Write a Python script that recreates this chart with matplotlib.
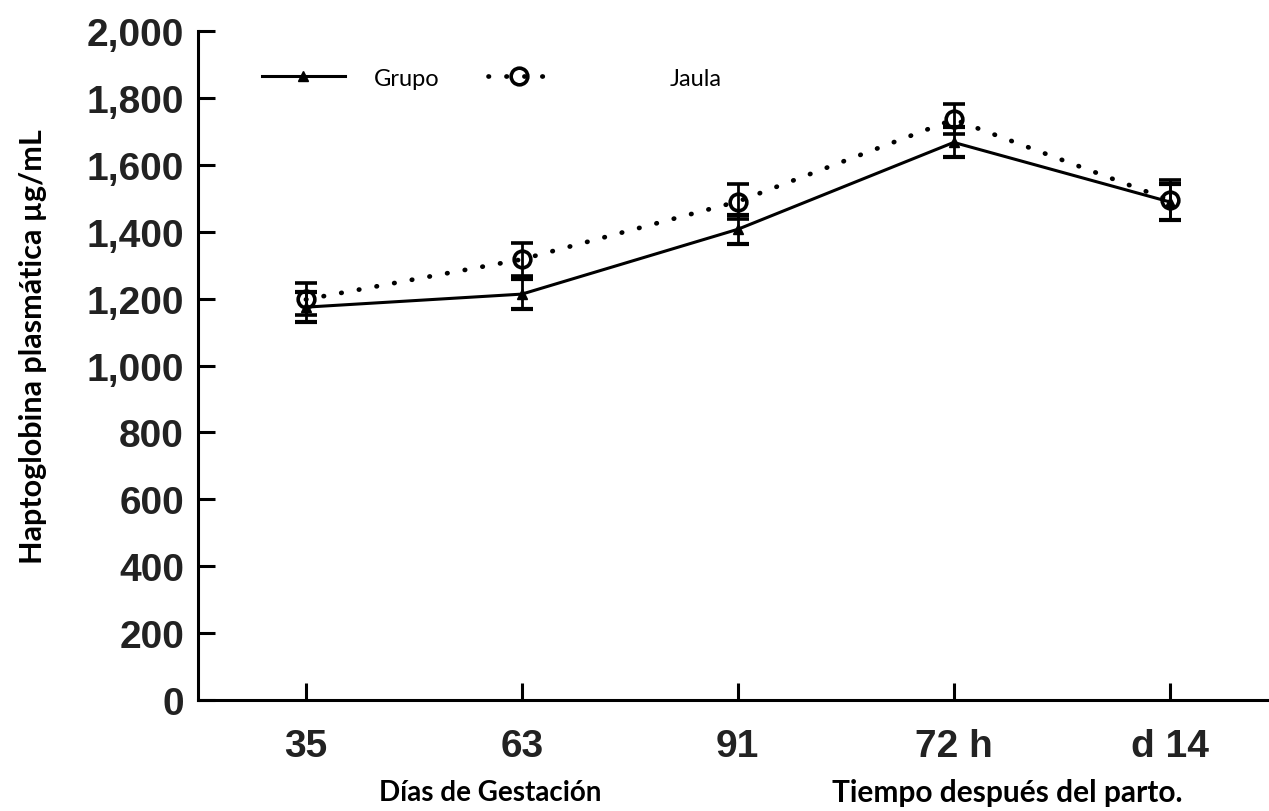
import matplotlib
matplotlib.use("Agg")
import matplotlib.pyplot as plt
from matplotlib.ticker import FuncFormatter

# Plasma haptoglobin by sampling time
time_labels = ["35", "63", "91", "72 h", "d 14"]
grupo_mean = [1175, 1214, 1408, 1668, 1490]
grupo_sem = [45, 45, 44, 45, 55]
jaula_mean = [1198, 1318, 1491, 1737, 1495]
jaula_sem = [48, 50, 52, 45, 60]
y_ticks = [0, 200, 400, 600, 800, 1000, 1200, 1400, 1600, 1800, 2000]

x = list(range(len(time_labels)))

fig = plt.figure(figsize=(12.69, 8.12), dpi=100)
ax = fig.add_axes([0.156, 0.137, 0.844, 0.823])

err_style = dict(ecolor="black", elinewidth=2.0, capsize=8, capthick=3.0)

g = ax.errorbar(x, grupo_mean, yerr=grupo_sem, color="black", lw=2.2,
                marker="^", ms=7, mfc="black", mec="black", zorder=3,
                **err_style)
j = ax.errorbar(x, jaula_mean, yerr=jaula_sem, color="black", lw=3.4,
                linestyle=(0, (0.1, 3.7)), dash_capstyle="round",
                marker="o", ms=12, mfc="none", mec="black", mew=2.6,
                zorder=4, **err_style)

ax.set_xlim(-0.5, 4.46)
ax.set_ylim(0, 2000)
ax.set_xticks(x)
ax.set_xticklabels(time_labels)
ax.set_yticks(y_ticks)
ax.yaxis.set_major_formatter(FuncFormatter(lambda v, p: f"{int(v):,}"))

for side in ["top", "right"]:
    ax.spines[side].set_visible(False)
for side in ["left", "bottom"]:
    ax.spines[side].set_linewidth(2.2)
    ax.spines[side].set_zorder(2)

ax.tick_params(axis="both", direction="in", length=12, width=2.2)
ax.tick_params(axis="y", pad=10)
ax.tick_params(axis="x", pad=20)
for lab in ax.get_xticklabels() + ax.get_yticklabels():
    lab.set_fontfamily("Liberation Sans")
    lab.set_fontweight("bold")
    lab.set_fontsize(28)
    lab.set_color("#222222")

ax.set_ylabel("Haptoglobina plasmática µg/mL", fontfamily="Lato",
              fontweight="bold", fontsize=22)
ax.yaxis.set_label_coords(-0.141, 0.53)

fig.text(0.386, 0.023, "Días de Gestación", fontfamily="Lato",
         fontweight="bold", fontsize=20, ha="center", va="center")
fig.text(0.794, 0.023, "Tiempo después del parto.", fontfamily="Lato",
         fontweight="bold", fontsize=21.5, ha="center", va="center")

leg_font = {"family": "Lato", "size": 17}
leg1 = ax.legend([g.lines[0]], ["Grupo"], loc="center left",
                 bbox_to_anchor=(0.04, 0.93), frameon=False,
                 handlelength=3.5, handletextpad=1.25, prop=leg_font)
ax.add_artist(leg1)
ax.legend([j.lines[0]], ["Jaula"], loc="center left",
          bbox_to_anchor=(0.251, 0.93), frameon=False,
          handlelength=2.6, handletextpad=5.1, prop=leg_font)

fig.savefig("out.png", dpi=100, facecolor="white")
